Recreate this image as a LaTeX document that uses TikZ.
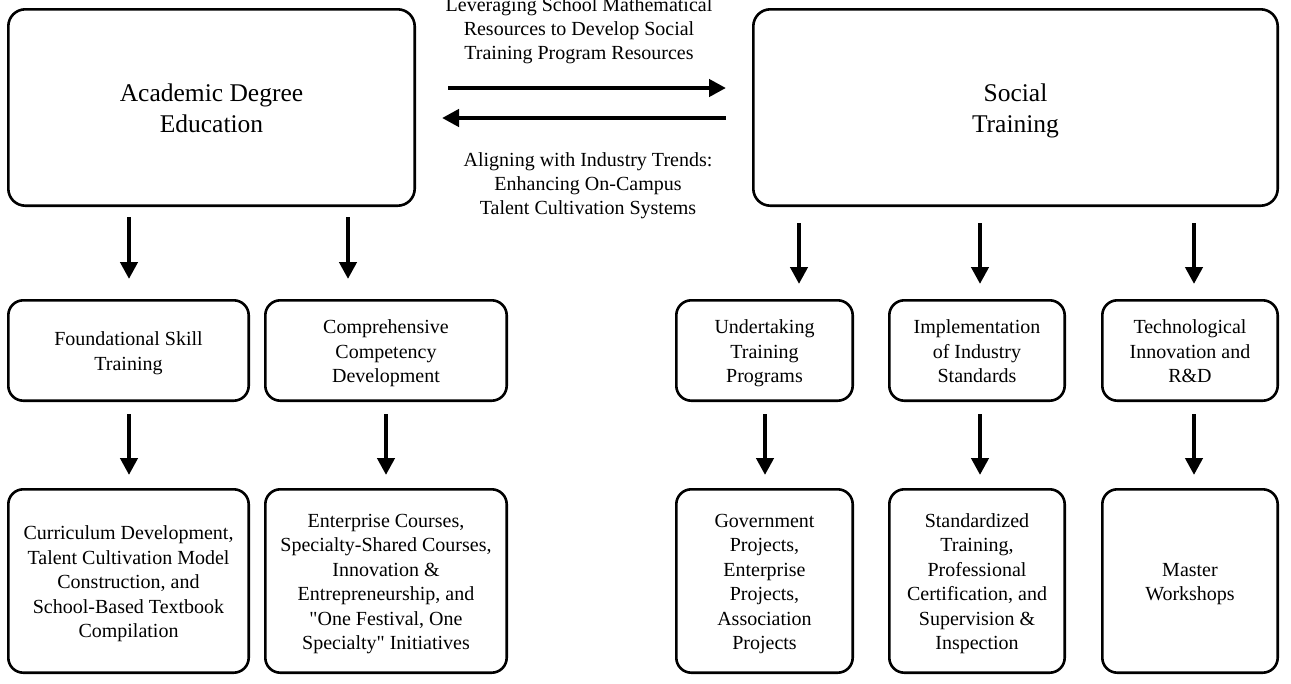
\documentclass[tikz,border=0pt]{standalone}
\usepackage{fontspec}
\setmainfont{Liberation Serif}
\usetikzlibrary{arrows.meta}
\newcommand{\hs}{\rule{0pt}{0.92\baselineskip}}
\begin{document}
\begin{tikzpicture}[x=1pt,y=-1pt,
  box/.style={draw=black, line width=2.6pt, rounded corners=15pt, align=center, inner sep=0pt, font=\fontsize{20}{24.5}\selectfont, execute at end node=\strut},
  bigbox/.style={box, font=\fontsize{25.5}{31}\selectfont, rounded corners=17pt},
  flow/.style={line width=4.6pt, -{Triangle[length=17pt,width=17pt]}},
  lbl/.style={align=center, inner sep=0pt, font=\fontsize{20}{24}\selectfont, execute at end node=\strut}]
\useasboundingbox (0,0) rectangle (1291,683);
% top boxes
\node[bigbox, minimum width=406.4pt, minimum height=196.4pt] (A) at (211.5,107.5) {\hs Academic Degree\\Education};
\node[bigbox, minimum width=524.4pt, minimum height=196.4pt] (S) at (1015.5,107.5) {\hs Social\\Training};
% row 2
\node[box, minimum width=240.4pt, minimum height=100.4pt] (F) at (128.5,350.5) {\hs Foundational Skill\\Training};
\node[box, minimum width=241.4pt, minimum height=100.4pt] (C) at (386,350.5) {\hs Comprehensive\\Competency\\Development};
\node[box, minimum width=176.4pt, minimum height=100.4pt] (U) at (764.5,350.5) {\hs Undertaking\\Training\\Programs};
\node[box, minimum width=175.4pt, minimum height=100.4pt] (I) at (977,350.5) {\hs Implementation\\of Industry\\Standards};
\node[box, minimum width=175.4pt, minimum height=100.4pt] (T) at (1190,350.5) {\hs Technological\\Innovation and\\R\&D};
% row 3
\node[box, minimum width=240.4pt, minimum height=183.4pt] (F3) at (128.5,581) {\hs Curriculum Development,\\Talent Cultivation Model\\Construction, and\\School-Based Textbook\\Compilation};
\node[box, minimum width=241.4pt, minimum height=183.4pt] (C3) at (386,581) {\hs Enterprise Courses,\\Specialty-Shared Courses,\\Innovation \&\\Entrepreneurship, and\\\textquotedbl One Festival, One\\Specialty\textquotedbl{} Initiatives};
\node[box, minimum width=176.4pt, minimum height=183.4pt] (U3) at (764.5,581) {\hs Government\\Projects,\\Enterprise\\Projects,\\Association\\Projects};
\node[box, minimum width=175.4pt, minimum height=183.4pt] (I3) at (977,581) {\hs Standardized\\Training,\\Professional\\Certification, and\\Supervision \&\\Inspection};
\node[box, minimum width=175.4pt, minimum height=183.4pt] (T3) at (1190,581) {\hs Master\\Workshops};
% labels
\node[lbl] (top) at (579,28) {\hs Leveraging School Mathematical\\Resources to Develop Social\\Training Program Resources};
\node[lbl] (bot) at (588,183) {\hs Aligning with Industry Trends:\\Enhancing On-Campus\\Talent Cultivation Systems};
% horizontal arrows
\coordinate (r) at (0,88);
\coordinate (l) at (0,118);
\draw[flow, shorten <=32pt, shorten >=26pt] (A.east |- r) -- (S.west |- r);
\draw[flow, shorten <=26pt, shorten >=26pt] (S.west |- l) -- (A.east |- l);
% vertical arrows, top
\coordinate (xa1) at (129,0);
\coordinate (xa2) at (348,0);
\coordinate (xs1) at (799,0);
\coordinate (xs2) at (980,0);
\coordinate (xs3) at (1194,0);
\coordinate (xb3) at (765,0);
\draw[flow, shorten <=10pt, shorten >=20pt] (A.south -| xa1) -- (F.north -| xa1);
\draw[flow, shorten <=10pt, shorten >=20pt] (A.south -| xa2) -- (C.north -| xa2);
\draw[flow, shorten <=16pt, shorten >=15pt] (S.south -| xs1) -- (U.north -| xs1);
\draw[flow, shorten <=16pt, shorten >=15pt] (S.south -| xs2) -- (I.north -| xs2);
\draw[flow, shorten <=16pt, shorten >=15pt] (S.south -| xs3) -- (T.north -| xs3);
% vertical arrows, lower
\draw[flow, shorten <=12pt, shorten >=13pt] (F.south -| xa1) -- (F3.north -| xa1);
\draw[flow, shorten <=12pt, shorten >=13pt] (C.south) -- (C3.north);
\draw[flow, shorten <=12pt, shorten >=13pt] (U.south -| xb3) -- (U3.north -| xb3);
\draw[flow, shorten <=12pt, shorten >=13pt] (I.south -| xs2) -- (I3.north -| xs2);
\draw[flow, shorten <=12pt, shorten >=13pt] (T.south -| xs3) -- (T3.north -| xs3);
\end{tikzpicture}
\end{document}
